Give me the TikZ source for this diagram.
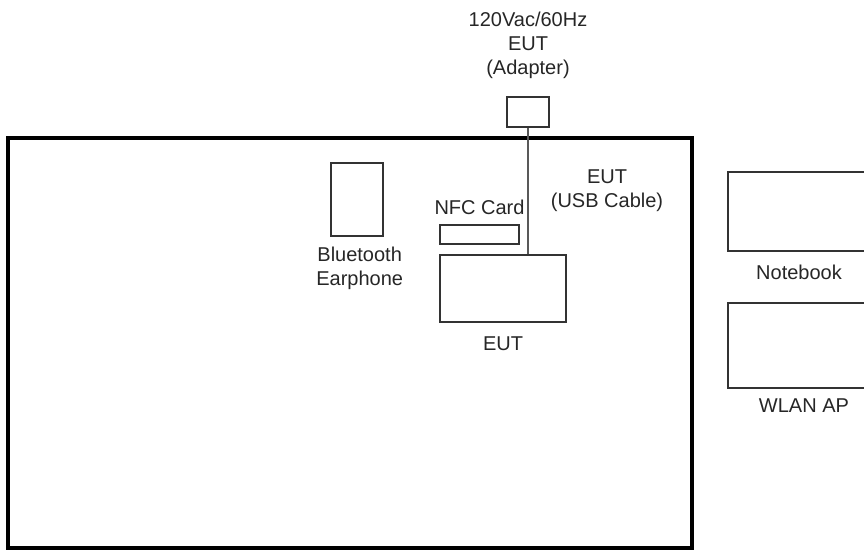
\documentclass[tikz,border=0pt]{standalone}
\usepackage{fontspec}
\setmainfont{Liberation Sans}
\usetikzlibrary{positioning}
\tikzset{
  unit/.style={draw=black!80,line width=1.5pt,fill=white,inner sep=0pt},
  lbl/.style={font=\fontsize{15}{18}\selectfont,align=center,inner sep=0pt,text=black!85}
}
\begin{document}
\begin{tikzpicture}[x=0.75pt,y=-0.75pt]
\useasboundingbox (0,0) rectangle (864,551);
\clip (0,0) rectangle (864,551);
% test table
\draw[line width=3pt] (8,138) rectangle (692,548);
% units on the table
\node[unit,minimum width=31.5pt,minimum height=22.5pt] (adapter) at (528,112) {};
\node[unit,minimum width=94.5pt,minimum height=50.25pt] (eut) at (503,288.5) {};
\node[unit,minimum width=59.25pt,minimum height=14.25pt] (nfc) at (479.5,234.5) {};
\node[unit,minimum width=39pt,minimum height=54.75pt] (bt) at (357,199.5) {};
% support units
\node[unit,anchor=west,minimum width=112.5pt,minimum height=59.25pt] (notebook) at (727,211.5) {};
\node[unit,anchor=west,minimum width=112.5pt,minimum height=63.75pt] (wlan) at (727,345.5) {};
% cable
\draw[black!65,line width=1.5pt] (adapter.south) -- (adapter.south |- eut.north);
% labels
\node[lbl,above=13pt of adapter] (adlbl) {120Vac/60Hz\\EUT\\(Adapter)};
\node[lbl] (usblbl) at (607,191) {EUT\\(USB Cable)};
\node[lbl,above=7pt of nfc] (nfclbl) {NFC Card};
\node[lbl,below=7pt of bt,xshift=2pt] (btlbl) {Bluetooth\\Earphone};
\node[lbl,below=10pt of eut] (eutlbl) {EUT};
\node[lbl] (nblbl) at (799,272) {Notebook};
\node[lbl] (aplbl) at (804,406) {WLAN AP};
\end{tikzpicture}
\end{document}
